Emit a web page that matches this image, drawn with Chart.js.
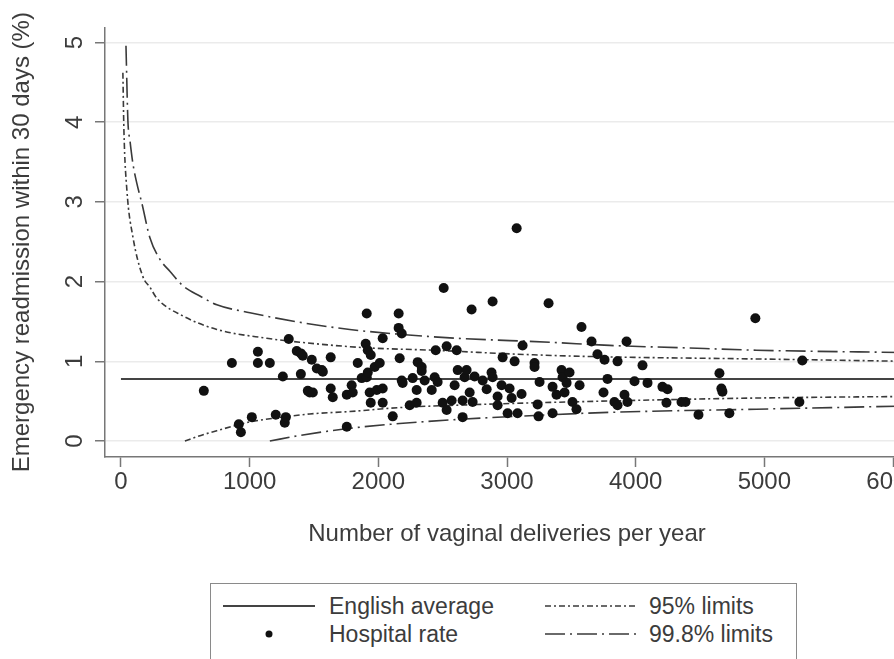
<!DOCTYPE html>
<html>
<head>
<meta charset="utf-8">
<script src="https://cdn.jsdelivr.net/npm/chart.js@4.4.1/dist/chart.umd.min.js"></script>
<style>
html,body{margin:0;padding:0;background:#fff;overflow:hidden;width:894px;height:659px;}
#wrap{position:absolute;left:0;top:0;width:930px;height:565px;}
#legend{position:absolute;left:210px;top:583px;width:587px;height:110px;border:1.5px solid #8a8a8a;box-sizing:border-box;font-family:"Liberation Sans",Arial,sans-serif;font-size:23px;color:#3c3c3c;background:#fff;}
.lt{position:absolute;line-height:28px;white-space:nowrap;}
.ls{position:absolute;}
</style>
</head>
<body>
<div id="wrap"><canvas id="c" width="930" height="565"></canvas></div>
<div id="legend">
  <svg class="ls" style="left:10px;top:0" width="100" height="70">
    <line x1="2" y1="22" x2="94" y2="22" stroke="#444" stroke-width="2"/>
    <circle cx="48" cy="50" r="3.5" fill="#111"/>
  </svg>
  <div class="lt" style="left:118px;top:8px">English average</div>
  <div class="lt" style="left:118px;top:36px">Hospital rate</div>
  <svg class="ls" style="left:332px;top:0" width="100" height="70">
    <line x1="2" y1="22" x2="94" y2="22" stroke="#3a3a3a" stroke-width="1.6" stroke-dasharray="6 3 2 3"/>
    <line x1="2" y1="50" x2="94" y2="50" stroke="#3a3a3a" stroke-width="1.6" stroke-dasharray="20 5 2 5"/>
  </svg>
  <div class="lt" style="left:438px;top:8px">95% limits</div>
  <div class="lt" style="left:438px;top:36px">99.8% limits</div>
</div>
<script>
// ---- data ----
const hospitalDeliveries = [644,862,916,932,1017,1064,1064,1157,1203,1258,1273,1281,1304,1366,1398,1398,1413,1452,1467,1483,1491,1522,1561,1569,1630,1630,1646,1755,1755,1793,1801,1840,1871,1902,1910,1910,1918,1918,1933,1941,1941,1972,1988,2011,2034,2034,2034,2112,2158,2158,2166,2182,2182,2189,2244,2267,2298,2298,2306,2337,2337,2360,2415,2438,2446,2461,2500,2508,2531,2531,2570,2593,2609,2617,2655,2655,2671,2686,2710,2725,2733,2748,2811,2842,2880,2888,2888,2927,2927,2958,2966,3005,3020,3036,3059,3075,3082,3113,3121,3214,3214,3238,3245,3253,3323,3354,3354,3385,3424,3432,3447,3463,3486,3509,3540,3564,3579,3657,3703,3750,3758,3781,3835,3859,3859,3913,3929,3936,3991,4053,4092,4208,4239,4247,4356,4387,4488,4651,4666,4674,4728,4930,5272,5295];
const hospitalRates = [0.63,0.98,0.21,0.11,0.30,1.12,0.98,0.98,0.33,0.81,0.23,0.30,1.28,1.13,1.10,0.84,1.07,0.63,0.61,1.02,0.61,0.91,0.89,0.87,1.05,0.66,0.55,0.58,0.18,0.70,0.61,0.98,0.79,1.22,1.60,0.80,1.14,0.86,0.61,1.08,0.48,0.93,0.64,0.98,1.29,0.66,0.48,0.31,1.60,1.42,1.04,1.35,0.76,0.73,0.45,0.79,0.64,0.48,0.99,0.93,0.88,0.76,0.64,0.80,1.14,0.74,0.48,1.92,1.19,0.39,0.51,0.70,1.14,0.89,0.51,0.30,0.80,0.89,0.61,1.65,0.49,0.81,0.76,0.65,0.86,1.75,0.80,0.56,0.45,0.70,1.05,0.35,0.66,0.54,1.00,2.67,0.35,0.59,1.20,0.98,0.93,0.46,0.31,0.74,1.73,0.68,0.35,0.58,0.89,0.80,0.61,0.73,0.86,0.49,0.40,0.70,1.43,1.25,1.09,0.61,1.02,0.78,0.49,1.00,0.45,0.58,1.25,0.49,0.75,0.95,0.73,0.68,0.48,0.65,0.49,0.49,0.33,0.85,0.66,0.62,0.35,1.54,0.49,1.01];

const englishAverage = 0.78;
const averageSpan = [0, 6124];

const limit95UpperN    = [15,23,46,93,171,225,280,481,745,1133,1390,1910,2422,3075,3665,4938,6124];
const limit95UpperRate = [4.62,3.90,3.15,2.56,2.06,1.93,1.79,1.57,1.40,1.29,1.24,1.17,1.14,1.09,1.06,1.03,1.00];
const limit95LowerN    = [497,600,745,1002,1258,1467,1778,2166,2609,3719,4938,6124];
const limit95LowerRate = [0,0.06,0.13,0.24,0.30,0.34,0.37,0.42,0.45,0.50,0.54,0.56];

const limit998UpperN    = [39,54,70,93,124,163,225,303,380,481,613,745,1002,1390,1778,2166,2609,3331,3797,4364,4938,6124];
const limit998UpperRate = [4.96,4.02,3.77,3.48,3.23,2.98,2.55,2.28,2.13,1.95,1.82,1.71,1.61,1.49,1.40,1.34,1.29,1.24,1.20,1.17,1.14,1.11];
const limit998LowerN    = [1157,1390,1778,2166,2609,3331,3797,4938,6124];
const limit998LowerRate = [0,0.07,0.16,0.22,0.27,0.33,0.36,0.40,0.44];

const xTickValues = [0,1000,2000,3000,4000,5000,6000];
const yTickValues = [0,1,2,3,4,5];
const xRange = [-124, 6124];
const yRange = [-0.2, 5.19];

// ---- chart ----
const FONT = '"Liberation Sans", Arial, Helvetica, sans-serif';
const zip = (xs, ys) => xs.map((x, i) => ({x: x, y: ys[i]}));
const lineDs = (label, xs, ys, dash, color, width) => ({
  label: label, data: zip(xs, ys), showLine: true, fill: false,
  borderColor: color, borderWidth: width, borderDash: dash,
  pointRadius: 0, pointHoverRadius: 0, cubicInterpolationMode: 'monotone', order: 1
});

new Chart(document.getElementById('c').getContext('2d'), {
  type: 'scatter',
  data: {
    datasets: [
      { label: 'Hospital rate', data: zip(hospitalDeliveries, hospitalRates),
        pointRadius: 5, pointHoverRadius: 5, backgroundColor: '#111', borderWidth: 0, order: 0 },
      lineDs('English average', averageSpan, averageSpan.map(() => englishAverage), [], '#444', 2),
      lineDs('95% limits', limit95UpperN, limit95UpperRate, [6,3,2,3], '#3a3a3a', 1.6),
      lineDs('95% limits (lower)', limit95LowerN, limit95LowerRate, [6,3,2,3], '#3a3a3a', 1.6),
      lineDs('99.8% limits', limit998UpperN, limit998UpperRate, [20,5,2,5], '#3a3a3a', 1.6),
      lineDs('99.8% limits (lower)', limit998LowerN, limit998LowerRate, [20,5,2,5], '#3a3a3a', 1.6)
    ]
  },
  options: {
    responsive: false, animation: false, devicePixelRatio: 1,
    layout: { padding: { left: 0, top: 27, right: 21, bottom: 0 } },
    plugins: { legend: { display: false }, tooltip: { enabled: false } },
    scales: {
      x: {
        type: 'linear', min: xRange[0], max: xRange[1],
        afterBuildTicks: s => { s.ticks = xTickValues.map(v => ({value: v})); },
        afterFit: s => { s.height = 108; },
        grid: { drawOnChartArea: false, drawTicks: true, tickLength: 10, tickColor: '#777', tickWidth: 1.5 },
        border: { display: true, color: '#777', width: 1.5 },
        ticks: { color: '#3c3c3c', font: { family: FONT, size: 24 }, padding: 1, minRotation: 0, maxRotation: 0,
                 callback: v => String(v) },
        title: { display: true, text: 'Number of vaginal deliveries per year', color: '#3c3c3c',
                 font: { family: FONT, size: 24 }, padding: { top: 0, bottom: 16 } }
      },
      y: {
        type: 'linear', min: yRange[0], max: yRange[1],
        afterBuildTicks: s => { s.ticks = yTickValues.map(v => ({value: v})); },
        afterFit: s => { s.width = 105; },
        grid: { color: '#ebebeb', lineWidth: 1.5, drawTicks: true, tickLength: 10, tickColor: '#777', tickWidth: 1.5 },
        border: { display: true, color: '#777', width: 1.5 },
        ticks: { color: '#3c3c3c', font: { family: FONT, size: 24 }, padding: 13, minRotation: 90, maxRotation: 90,
                 crossAlign: 'center', callback: v => String(v) },
        title: { display: true, text: 'Emergency readmission within 30 days (%)', color: '#3c3c3c',
                 font: { family: FONT, size: 24 }, padding: { top: 8, bottom: 0 } }
      }
    }
  }
});
</script>
</body>
</html>
